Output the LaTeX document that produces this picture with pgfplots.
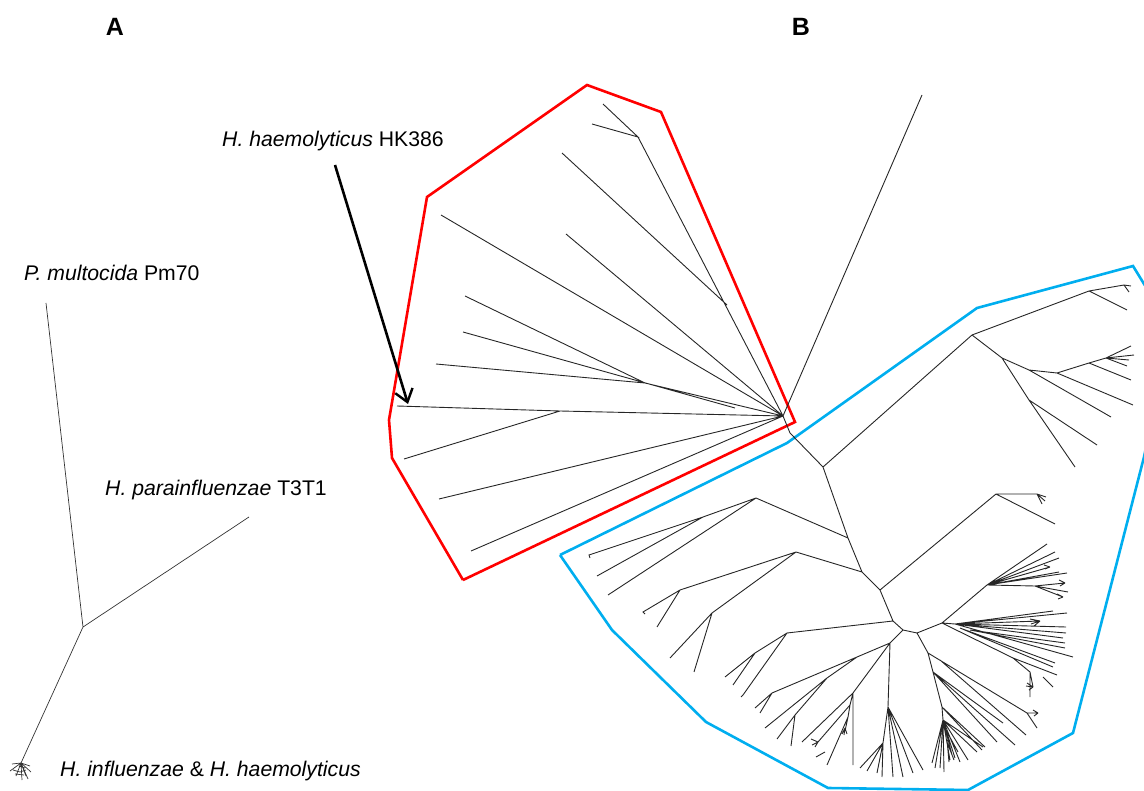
\documentclass[border=0pt]{standalone}
\usepackage{pgfplots}
\pgfplotsset{compat=1.18}
\usepackage{fontspec}
\setmainfont{Liberation Sans}
\usetikzlibrary{arrows.meta}
\definecolor{hullred}{RGB}{255,0,0}
\definecolor{hullblue}{RGB}{0,174,239}
\begin{document}
\begin{tikzpicture}
\begin{axis}[
  width=1144pt, height=791pt, scale only axis,
  xmin=0, xmax=1144, ymin=0, ymax=791, y dir=reverse,
  axis lines=none, ticks=none, unbounded coords=jump,
  clip=true,
]
% ---------- hulls ----------
\addplot[hullred, line width=2.6pt, line join=miter] coordinates {
(463,580) (392,458) (389,420) (427,197) (587,85) (661,112) (795,422) (463,580)};
\addplot[hullblue, line width=2.6pt, line join=miter] coordinates {
(560,555) (612,630) (706,722) (828,788) (968,790) (1073,733) (1144,457) (1160,380) (1160,310) (1133,266) (977,308) (787,443) (560,555)};
% ---------- tree A ----------
\addplot[black!80, line width=0.7pt] coordinates {
(46,303) (83,627) (249,517) (nan,nan)
(83,627) (21,763) (nan,nan)
(21,763) (12,764) (nan,nan) (21,763) (14,768) (nan,nan) (21,763) (10,771) (nan,nan)
(21,763) (16,776) (nan,nan) (21,763) (22,780) (nan,nan) (21,763) (28,779) (nan,nan)
(21,763) (31,772) (nan,nan) (21,763) (30,766) (nan,nan) (21,763) (26,776) (nan,nan)
(13,770) (20,772) (26,770) (nan,nan) (15,774) (24,775) (nan,nan) (19,766) (25,768)
};
% ---------- tree B: red clade ----------
\addplot[black!85, line width=0.9pt] coordinates {
(603,104) (638,137) (592,124) (nan,nan)
(638,137) (783,416) (922,95) (nan,nan)
(562,153) (727,305) (nan,nan)
(566,234) (783,416) (nan,nan)
(441,215) (783,416) (nan,nan)
(465,296) (645,383) (783,416) (nan,nan)
(436,364) (645,383) (nan,nan)
(463,332) (735,408) (nan,nan)
(397,406) (560,411) (783,416) (nan,nan)
(404,459) (560,411) (nan,nan)
(439,499) (783,416) (nan,nan)
(471,551) (783,416)
};
% ---------- tree B: blue clade ----------
\addplot[black!85, line width=0.9pt] coordinates {
(783,416) (790,433) (823,467) (848,538) (862,572) (880,590) (893,621) (903,630) (917,633) (942,623) (955,624) (nan,nan)
(823,467) (972,335) (1089,291) (1124,285) (1131,286) (nan,nan)
(1124,285) (1129,292) (nan,nan)
(1089,291) (1127,310) (nan,nan)
(972,335) (1002,358) (1029,400) (1075,467) (nan,nan)
(1029,400) (1097,445) (nan,nan)
(1002,358) (1029,370) (1057,373) (1133,405) (nan,nan)
(1029,370) (1111,417) (nan,nan)
(1057,373) (1089,363) (1106,358) (1131,346) (nan,nan)
(1106,358) (1134,355) (nan,nan)
(1106,358) (1129,360) (nan,nan)
(1106,358) (1127,366) (nan,nan)
(1089,363) (1131,380) (nan,nan)
(848,538) (756,498) (703,517) (589,555) (590,558) (nan,nan)
(703,517) (597,576) (nan,nan)
(756,498) (608,595) (nan,nan)
(862,572) (796,552) (680,590) (643,612) (645,614) (nan,nan)
(680,590) (657,627) (nan,nan)
(796,552) (712,613) (670,658) (nan,nan)
(712,613) (694,672) (nan,nan)
(880,590) (996,494) (1037,494) (1046,497) (nan,nan)
(1037,494) (1045,501) (nan,nan)
(1037,494) (1042,504) (nan,nan)
(996,494) (1055,524) (nan,nan)
(893,621) (787,633) (755,653) (725,677) (nan,nan)
(755,653) (733,685) (nan,nan)
(787,633) (743,695) (741,697) (nan,nan)
(903,630) (890,643) (857,657) (772,693) (755,708) (nan,nan)
(772,693) (760,713) (nan,nan)
(857,657) (827,678) (765,728) (nan,nan)
(827,678) (795,715) (777,739) (nan,nan)
(795,715) (791,746) (nan,nan)
(890,643) (853,693) (802,742) (nan,nan)
(853,693) (850,705) (818,742) (nan,nan)
(818,742) (811,739) (nan,nan) (818,742) (812,745) (nan,nan) (818,742) (815,747) (nan,nan)
(850,705) (848,717) (827,765) (nan,nan)
(848,717) (845,731) (nan,nan)
(845,728) (842,734) (nan,nan) (845,728) (847,734) (nan,nan) (845,728) (844,735) (nan,nan)
(853,693) (853,765) (nan,nan)
(825,752) (816,757) (nan,nan)
(890,643) (888,707) (883,743) (860,768) (nan,nan)
(883,743) (867,771) (nan,nan)
(883,743) (877,773) (nan,nan)
(883,743) (882,777) (nan,nan)
(888,707) (893,777) (nan,nan)
(888,707) (903,777) (nan,nan)
(888,707) (913,773) (nan,nan)
(888,707) (923,770) (nan,nan)
(942,623) (987,585) (1047,544) (nan,nan)
(987,585) (1055,552) (nan,nan)
(987,585) (1059,558) (nan,nan)
(987,585) (1050,567) (nan,nan)
(987,585) (1059,572) (nan,nan)
(987,585) (1067,573) (nan,nan)
(987,585) (1035,586) (1065,583) (nan,nan)
(1035,586) (1068,592) (nan,nan)
(1035,586) (1063,597) (nan,nan)
(1065,583) (1059,580) (nan,nan) (1065,583) (1060,586) (nan,nan)
(1050,567) (1044,565) (nan,nan) (1050,567) (1045,569) (nan,nan)
(1063,597) (1057,594) (nan,nan) (1063,597) (1058,599) (nan,nan)
(955,624) (1053,611) (nan,nan)
(955,624) (1067,613) (nan,nan)
(955,624) (1040,621) (nan,nan)
(1040,621) (1030,619) (nan,nan) (1040,621) (1031,624) (nan,nan) (1040,621) (1034,626) (nan,nan)
(955,624) (1066,627) (nan,nan)
(955,624) (1066,633) (nan,nan)
(955,624) (1063,638) (nan,nan)
(970,630) (1065,643) (nan,nan)
(970,630) (1065,648) (nan,nan)
(955,624) (1073,657) (nan,nan)
(960,628) (1055,663) (nan,nan)
(960,628) (1053,667) (nan,nan)
(942,623) (1013,658) (1057,675) (nan,nan)
(1013,658) (1030,672) (1033,687) (nan,nan)
(1030,672) (1030,697) (nan,nan)
(1043,677) (1053,687) (nan,nan)
(1033,687) (1027,683) (nan,nan) (1033,687) (1026,686) (nan,nan) (1033,687) (1029,690) (nan,nan)
(917,633) (928,653) (933,672) (942,707) (943,720) (nan,nan)
(928,653) (1027,713) (1037,728) (nan,nan)
(1027,713) (1038,713) (nan,nan)
(1038,713) (1033,710) (nan,nan) (1038,713) (1034,716) (nan,nan)
(933,672) (1015,745) (nan,nan)
(933,672) (997,742) (nan,nan)
(940,660) (1026,735) (nan,nan)
(933,672) (1003,723) (nan,nan)
(942,707) (982,750) (nan,nan)
(942,707) (985,747) (nan,nan)
(943,720) (932,763) (nan,nan)
(943,720) (935,768) (nan,nan)
(943,720) (940,768) (nan,nan)
(943,720) (944,772) (nan,nan)
(943,720) (950,760) (nan,nan)
(943,720) (952,755) (nan,nan)
(946,730) (955,758) (nan,nan)
(946,730) (958,752) (nan,nan)
(943,720) (960,762) (nan,nan)
(943,720) (968,760) (nan,nan)
(943,720) (977,752) (nan,nan)
(943,720) (983,747) (nan,nan)
(947,740) (949,762) (nan,nan)
(947,742) (954,760)
};
% ---------- arrow ----------
\addplot[black, line width=2.6pt, -{Straight Barb[length=12pt,width=18pt,line width=2.4pt]}] coordinates {(335,165) (408,404)};
% ---------- labels ----------
\node[font=\fontsize{25}{30}\selectfont\bfseries] at (axis cs:115,27) {A};
\node[font=\fontsize{25}{30}\selectfont\bfseries] at (axis cs:801,27) {B};
\node[anchor=west, inner sep=0pt, font=\fontsize{21.2}{25}\selectfont] at (axis cs:222,141) {\textit{H. haemolyticus} HK386};
\node[anchor=west, inner sep=0pt, font=\fontsize{21.2}{25}\selectfont] at (axis cs:24,273) {\textit{P. multocida} Pm70};
\node[anchor=west, inner sep=0pt, font=\fontsize{21.2}{25}\selectfont] at (axis cs:105,490) {\textit{H. parainfluenzae} T3T1};
\node[anchor=west, inner sep=0pt, font=\fontsize{21.2}{25}\selectfont] at (axis cs:60,771) {\textit{H. influenzae} \& \textit{H. haemolyticus}};
\end{axis}
\pgfresetboundingbox
\path (0,0) rectangle (1144pt,791pt);
\end{tikzpicture}
\end{document}
